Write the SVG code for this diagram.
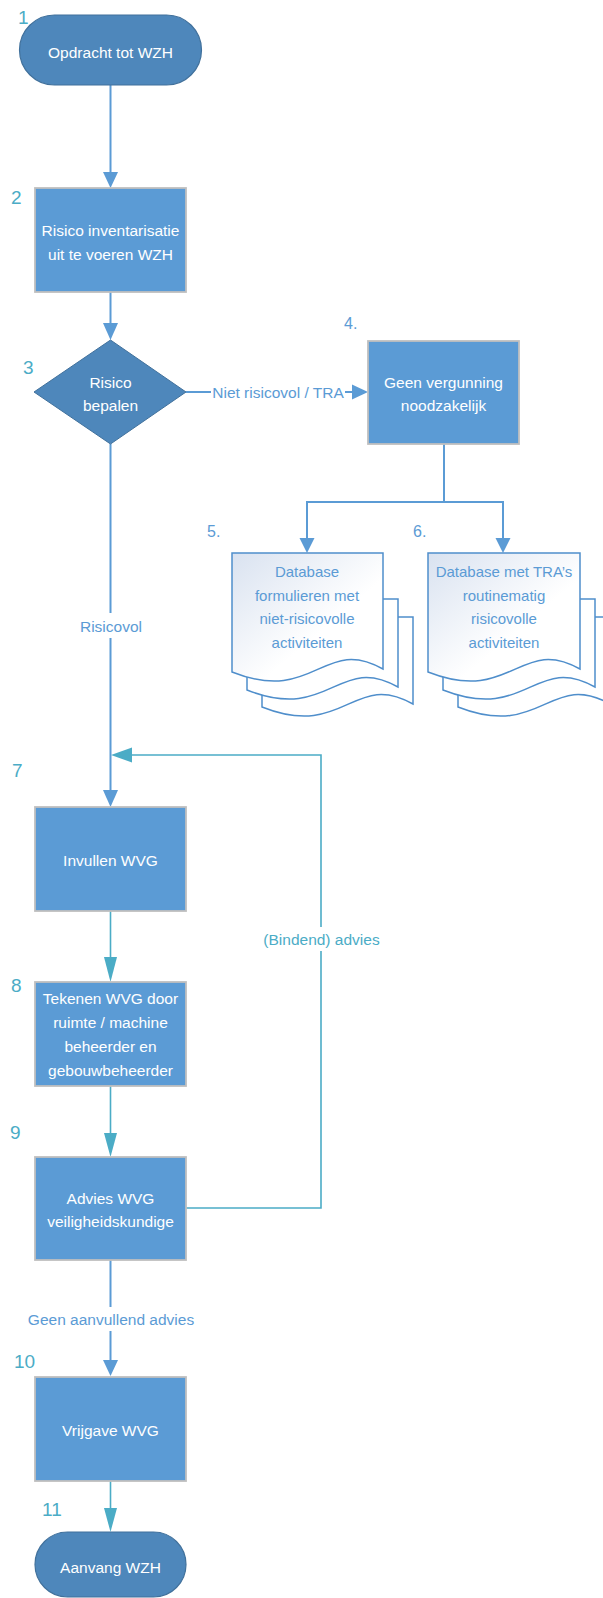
<svg xmlns="http://www.w3.org/2000/svg" width="603" height="1598" viewBox="0 0 603 1598">
<defs>
<linearGradient id="docg" x1="0" y1="0" x2="1" y2="1">
<stop offset="0" stop-color="#D9E2F0"/>
<stop offset="0.6" stop-color="#FFFFFF"/>
</linearGradient>
<style>
text{font-family:"Liberation Sans",Arial,sans-serif;}
.term{fill:#4E87BB;stroke:#41719C;stroke-width:1.2;}
.proc{fill:#5B9BD5;stroke:#BFBFBF;stroke-width:1.8;}
.dec{fill:#4E87BB;stroke:#41719C;stroke-width:1;}
.wt{fill:#FFFFFF;font-size:15.5px;text-anchor:middle;}
.num{fill:#4BACC6;font-size:19px;}
.numb{fill:#5B9BD5;font-size:16px;}
.lb{fill:#5B9BD5;font-size:15.5px;text-anchor:middle;}
.lt{fill:#4BACC6;font-size:15.5px;text-anchor:middle;}
.cb{fill:none;stroke:#5B9BD5;stroke-width:2;}
.ct{fill:none;stroke:#4BACC6;stroke-width:1.6;}
.ab{fill:#5B9BD5;}
.at{fill:#4BACC6;}
.doc{fill:#FFFFFF;stroke:#4F8ECB;stroke-width:1.5;}
.docf{fill:url(#docg);stroke:#4F8ECB;stroke-width:1.5;}
.dt{fill:#5B9BD5;font-size:15px;text-anchor:middle;}
.bg{fill:#FFFFFF;}
</style>
</defs>
<rect width="603" height="1598" fill="#FFFFFF"/>

<g id="connectors">
<line class="cb" x1="110.5" y1="85" x2="110.5" y2="173"/>
<polygon class="ab" points="103,172 118,172 110.5,188"/>
<line class="cb" x1="110.5" y1="292" x2="110.5" y2="324"/>
<polygon class="ab" points="103,323 118,323 110.5,340"/>
<line class="cb" x1="186" y1="392" x2="353" y2="392"/>
<polygon class="ab" points="352,384.5 352,399.5 368,392"/>
<rect class="bg" x="211" y="382" width="134" height="20"/>
<text class="lb" x="278" y="397.5">Niet risicovol / TRA</text>
<line class="cb" x1="110.5" y1="444" x2="110.5" y2="791"/>
<polygon class="ab" points="103,790 118,790 110.5,807"/>
<rect class="bg" x="79" y="613" width="64" height="25"/>
<text class="lb" x="111" y="631.5">Risicovol</text>
<path class="cb" d="M444,444 V502 M307,539 V502 H503 V539"/>
<polygon class="ab" points="299.5,538 314.5,538 307,553"/>
<polygon class="ab" points="495.5,538 510.5,538 503,553"/>
<line class="ct" x1="110.5" y1="911" x2="110.5" y2="958"/>
<polygon class="at" points="104,957 117,957 110.5,982"/>
<line class="ct" x1="110.5" y1="1086" x2="110.5" y2="1134"/>
<polygon class="at" points="104,1133 117,1133 110.5,1157"/>
<path class="ct" d="M186,1208 H321 V755 H131"/>
<polygon class="at" points="132,747.5 132,762.5 111,755"/>
<rect class="bg" x="262" y="927" width="120" height="24"/>
<text class="lt" x="321.5" y="944.5">(Bindend) advies</text>
<line class="cb" x1="110.5" y1="1260" x2="110.5" y2="1361"/>
<polygon class="ab" points="103,1360 118,1360 110.5,1376"/>
<rect class="bg" x="27" y="1307" width="168" height="24"/>
<text class="lb" x="111" y="1324.5">Geen aanvullend advies</text>
<line class="ct" x1="110.5" y1="1481" x2="110.5" y2="1509"/>
<polygon class="at" points="104,1508 117,1508 110.5,1532"/>
</g>

<g id="n1">
<rect class="term" x="19.5" y="15" width="182" height="70" rx="35" ry="35"/>
<text class="wt" x="110.5" y="57.5">Opdracht tot WZH</text>
<text class="num" x="18" y="24">1</text>
</g>

<g id="n2">
<rect class="proc" x="35" y="188" width="151" height="104"/>
<text class="wt" x="110.5" y="235.5">Risico inventarisatie</text>
<text class="wt" x="110.5" y="259.5">uit te voeren WZH</text>
<text class="num" x="11" y="204">2</text>
</g>

<g id="n3">
<polygon class="dec" points="110.5,340 186,392 110.5,444 34,392"/>
<text class="wt" x="110.5" y="387.5">Risico</text>
<text class="wt" x="110.5" y="410.5">bepalen</text>
<text class="num" x="23" y="374">3</text>
</g>

<g id="n4">
<rect class="proc" x="368" y="341" width="151" height="103"/>
<text class="wt" x="443.5" y="387.5">Geen vergunning</text>
<text class="wt" x="443.5" y="410.5">noodzakelijk</text>
<text class="numb" x="344" y="329">4.</text>
</g>

<g id="n5">
<path class="doc" d="M262,617 H413 V704 C353,670 345,740 262,707 Z"/>
<path class="doc" d="M247,599 H398 V687 C338,653 330,723 247,690 Z"/>
<path class="docf" d="M232,553 H383 V669 C323,635 315,705 232,672 Z"/>
<text class="dt" x="307" y="577">Database</text>
<text class="dt" x="307" y="600.5">formulieren met</text>
<text class="dt" x="307" y="624">niet-risicovolle</text>
<text class="dt" x="307" y="647.5">activiteiten</text>
<text class="numb" x="207" y="537">5.</text>
</g>

<g id="n6">
<path class="doc" d="M458,617 H610 V704 C550,670 542,740 458,707 Z"/>
<path class="doc" d="M443,599 H595 V687 C535,653 527,723 443,690 Z"/>
<path class="docf" d="M428,553 H580 V669 C520,635 512,705 428,672 Z"/>
<text class="dt" x="504" y="577">Database met TRA’s</text>
<text class="dt" x="504" y="600.5">routinematig</text>
<text class="dt" x="504" y="624">risicovolle</text>
<text class="dt" x="504" y="647.5">activiteiten</text>
<text class="numb" x="413" y="537">6.</text>
</g>

<g id="n7">
<rect class="proc" x="35" y="807" width="151" height="104"/>
<text class="wt" x="110.5" y="865.5">Invullen WVG</text>
<text class="num" x="12" y="777">7</text>
</g>

<g id="n8">
<rect class="proc" x="35" y="982" width="151" height="104"/>
<text class="wt" x="110.5" y="1003.5">Tekenen WVG door</text>
<text class="wt" x="110.5" y="1027.5">ruimte / machine</text>
<text class="wt" x="110.5" y="1051.5">beheerder  en</text>
<text class="wt" x="110.5" y="1075.5">gebouwbeheerder</text>
<text class="num" x="11" y="992">8</text>
</g>

<g id="n9">
<rect class="proc" x="35" y="1157" width="151" height="103"/>
<text class="wt" x="110.5" y="1203.5">Advies WVG</text>
<text class="wt" x="110.5" y="1226.5">veiligheidskundige</text>
<text class="num" x="10" y="1139">9</text>
</g>

<g id="n10">
<rect class="proc" x="35" y="1377" width="151" height="104"/>
<text class="wt" x="110.5" y="1435.5">Vrijgave WVG</text>
<text class="num" x="14" y="1368">10</text>
</g>

<g id="n11">
<rect class="term" x="35" y="1532" width="151" height="65" rx="32.5" ry="32.5"/>
<text class="wt" x="110.5" y="1573">Aanvang WZH</text>
<text class="num" x="42" y="1516">11</text>
</g>
</svg>
